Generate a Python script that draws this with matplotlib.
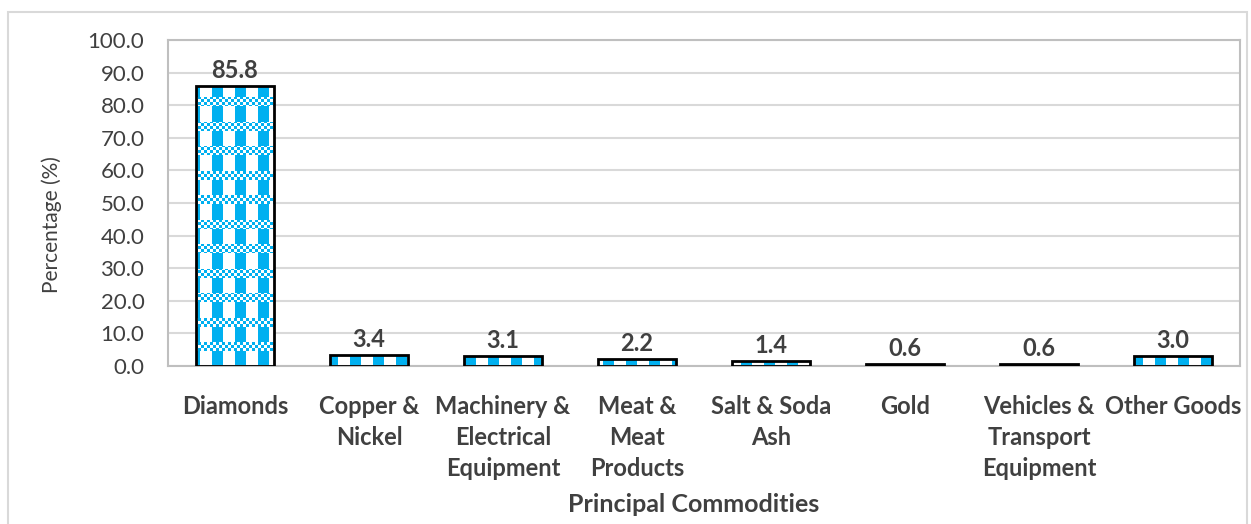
import numpy as np
import matplotlib
matplotlib.use("Agg")
import matplotlib.pyplot as plt
from matplotlib.patches import Rectangle

categories = ["Diamonds", "Copper &\nNickel", "Machinery &\nElectrical\nEquipment",
              "Meat &\nMeat\nProducts", "Salt & Soda\nAsh", "Gold",
              "Vehicles &\nTransport\nEquipment", "Other Goods"]
values = [85.8, 3.4, 3.1, 2.2, 1.4, 0.6, 0.6, 3.0]
yticks = np.arange(0, 101, 10)

plt.rcParams['font.family'] = ['Lato', 'DejaVu Sans']
txt = '#404040'
cyan = np.array([0, 176, 240]) / 255.0

W, H = 1251, 524
fig = plt.figure(figsize=(W / 100, H / 100), dpi=100)
fig.patches.append(Rectangle((8 / W, -0.01), (W - 12) / W, (H - 12) / H + 0.01,
                             transform=fig.transFigure, fill=False,
                             edgecolor='#D9D9D9', linewidth=1.5))

x0, x1, ytop, ybot = 168, 1240, 40, 366
ax = fig.add_axes([x0 / W, (H - ybot) / H, (x1 - x0) / W, (ybot - ytop) / H])

x = np.arange(len(categories))
ax.set_xlim(-0.5, len(categories) - 0.5)
ax.set_ylim(0, 100)
ax.set_yticks(yticks)
ax.set_yticklabels(["%.1f" % t for t in yticks], fontsize=16, color=txt)
ax.set_xticks(x)
ax.set_xticklabels(categories, fontsize=17, fontweight='bold', color=txt,
                   linespacing=1.42, va='top')
ax.tick_params(length=0, pad=17)
ax.tick_params(axis='x', pad=21)
ax.grid(axis='y', color='#D9D9D9', linewidth=1.5, zorder=0)
ax.set_axisbelow(True)
for s in ax.spines.values():
    s.set_color('#BFBFBF')
    s.set_linewidth(1.5)

# checker texture laid out in screen pixels (rows from top, cols from left)
pw, ph = x1 - x0, ybot - ytop
yy, xx = np.mgrid[0:ph, 0:pw]
r = ytop + yy
c = x0 + xx
band = ((r - 342) % 24.5) < 9
small = ((c // 3) + (r // 3)) % 2 == 0
on = np.where(band, small, ((c - 212) % 23) < 11)
tex = np.ones((ph, pw, 3))
tex[on] = cyan

bars = ax.bar(x, values, width=0.58, color='white', edgecolor='none', zorder=2)
for b in bars:
    im = ax.imshow(tex, extent=[0, 1, 0, 1], transform=ax.transAxes,
                   interpolation='nearest', aspect='auto', zorder=2.5)
    im.set_clip_path(b)
ax.set_xlim(-0.5, len(categories) - 0.5)
ax.set_ylim(0, 100)
ax.bar(x, values, width=0.58, facecolor='none', edgecolor='black',
       linewidth=2, zorder=3)

for xi, v in zip(x, values):
    ax.annotate("%.1f" % v, (xi, v), xytext=(0, 3), textcoords='offset points',
                ha='center', va='bottom', fontsize=17, fontweight='bold', color=txt)

fig.text(52 / W, 1 - 225 / H, "Percentage (%)", rotation=90, ha='center',
         va='center', fontsize=15, color=txt)
fig.text(694 / W, 1 - 504 / H, "Principal Commodities", ha='center', va='center',
         fontsize=18, fontweight='bold', color=txt)

fig.savefig("out.png", dpi=100)
